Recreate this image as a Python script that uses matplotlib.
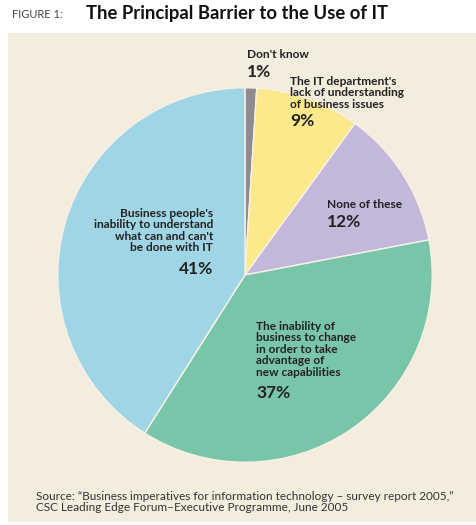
import matplotlib
matplotlib.use('agg')
import matplotlib.pyplot as plt

# slices, clockwise from 12 o'clock
labels = ["Don't know",
          "The IT department's\nlack of understanding\nof business issues",
          "None of these",
          "The inability of\nbusiness to change\nin order to take\nadvantage of\nnew capabilities",
          "Business people's\ninability to understand\nwhat can and can't\nbe done with IT"]
values = [1, 9, 12, 37, 41]
colors = ['#8f8b90', '#fbe98b', '#c3b7da', '#79c5a9', '#a0d5e5']

W, H = 477, 525
fig = plt.figure(figsize=(W / 100, H / 100), dpi=100)
fig.patch.set_facecolor('white')

def fx(px):
    return px / W

def fy(py):
    return 1 - py / H

# beige panel behind everything
bg = fig.add_axes([fx(8), fy(522), fx(477) - fx(8), fy(33) - fy(522)], zorder=0)
bg.set_facecolor('#f4ecdc')
bg.set_xticks([])
bg.set_yticks([])
for s in bg.spines.values():
    s.set_visible(False)

# pie: center (245, 275), radius 191 px
cx, cy, r = 245, 275, 191
ax = fig.add_axes([fx(cx - r), fy(cy + r), 2 * r / W, 2 * r / H], zorder=1)
ax.pie(values, colors=colors, startangle=90, counterclock=False, radius=1,
       wedgeprops=dict(edgecolor='#f7f2e8', linewidth=1.0))
ax.set_xlim(-1.02, 1.02)
ax.set_ylim(-1.02, 1.02)
ax.set_aspect('equal')
ax.axis('off')

font = 'Lato'
lab_kw = dict(fontfamily=font, fontweight='bold', fontsize=8.6, color='#222222',
              transform=fig.transFigure, linespacing=1.05, zorder=5)
pct_kw = dict(fontfamily=font, fontweight='bold', fontsize=12.5, color='#222222',
              transform=fig.transFigure, zorder=5)

# (x, top of first label line, alignment, top of percentage)
label_pos = [
    (247, 49, 'left', 64),
    (290, 76, 'left', 113),
    (327, 199, 'left', 214),
    (256, 321, 'left', 385),
    (213, 208, 'right', 261),
]
for lab, val, (x, y, ha, py) in zip(labels, values, label_pos):
    fig.text(fx(x), fy(y), lab, ha=ha, va='top', multialignment=ha, **lab_kw)
    fig.text(fx(x), fy(py), f"{val}%", ha=ha, va='top', **pct_kw)

# title
fig.text(fx(12), fy(14), "FIGURE 1:", ha='left', va='center', fontfamily=font,
         fontsize=8, color='#444444')
fig.text(fx(86), fy(13), "The Principal Barrier to the Use of IT", ha='left',
         va='center', fontfamily=font, fontweight='bold', fontsize=13.3, color='#111111')

# source
fig.text(fx(36), fy(502), "Source: \u201cBusiness imperatives for information technology \u2013 survey report 2005,\u201d\n"
         "CSC Leading Edge Forum\u2013Executive Programme, June 2005",
         ha='left', va='center', fontfamily=font, fontsize=8.5, color='#333333',
         linespacing=0.9, zorder=5)

fig.savefig('out.png', dpi=100, facecolor=fig.get_facecolor())
